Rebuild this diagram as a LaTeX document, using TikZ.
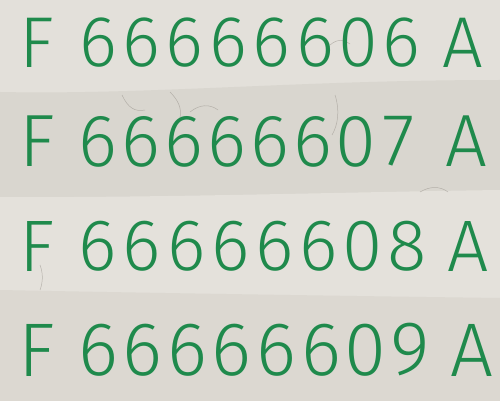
\documentclass[tikz,border=0pt]{standalone}
\usepackage{fontspec}
\setmainfont{Fira Sans Light}
\definecolor{inkgreen}{HTML}{1F8A4C}
\definecolor{paperA}{HTML}{E3E0DA}
\definecolor{paperB}{HTML}{D9D6CF}
\definecolor{paperC}{HTML}{E4E1DB}
\definecolor{paperD}{HTML}{DCD8D1}
\definecolor{fiber}{HTML}{9A958E}
\tikzset{
  serialchar/.style={inner sep=0pt, outer sep=0pt, text=inkgreen, anchor=center},
  fiberline/.style={draw=fiber, line width=0.5pt, opacity=0.6}
}
\begin{document}
\begin{tikzpicture}[x=1pt,y=-1pt]
\useasboundingbox (0,0) rectangle (500,401);
% paper strips
\fill[paperA] (0,0) rectangle (500,401);
\fill[paperB] (0,92) .. controls (150,95) and (300,80) .. (500,80) -- (500,401) -- (0,401) -- cycle;
\fill[paperC] (0,197) .. controls (150,198) and (350,192) .. (500,190) -- (500,401) -- (0,401) -- cycle;
\fill[paperD] (0,290) .. controls (150,293) and (350,296) .. (500,298) -- (500,401) -- (0,401) -- cycle;
% fibers
\draw[fiberline] (122,95) .. controls (128,108) and (135,112) .. (145,110);
\draw[fiberline] (170,92) .. controls (178,100) and (182,108) .. (180,118);
\draw[fiberline] (190,112) .. controls (200,104) and (210,104) .. (218,110);
\draw[fiberline] (330,45) .. controls (338,38) and (345,40) .. (350,44);
\draw[fiberline] (335,95) .. controls (340,110) and (338,125) .. (332,135);
\draw[fiberline] (40,265) .. controls (44,275) and (42,285) .. (40,290);
\draw[fiberline] (420,192) .. controls (430,186) and (440,186) .. (448,192);
% serial numbers
\foreach \row/\yc/\fs/\pitch/\ax/\last in {
  1/42.5/72/43.4/463/6,
  2/141.5/74/42.9/466/7,
  3/246/73/44.1/468/8,
  4/350/76/44.6/472/9}{
  \node[serialchar, font=\fontsize{\fs}{\fs}\selectfont] (F\row) at (37,\yc) {F};
  \foreach \i in {0,...,5}{
    \node[serialchar, font=\fontsize{\fs}{\fs}\selectfont] (d\row-\i) at ({98+\pitch*\i},\yc) {6};
  }
  \node[serialchar, font=\fontsize{\fs}{\fs}\selectfont] (d\row-6) at ({98+\pitch*6},\yc) {0};
  \node[serialchar, font=\fontsize{\fs}{\fs}\selectfont] (d\row-7) at ({98+\pitch*7},\yc) {\last};
  \node[serialchar, font=\fontsize{\fs}{\fs}\selectfont] (A\row) at (\ax,\yc) {A};
}
\end{tikzpicture}
\end{document}
